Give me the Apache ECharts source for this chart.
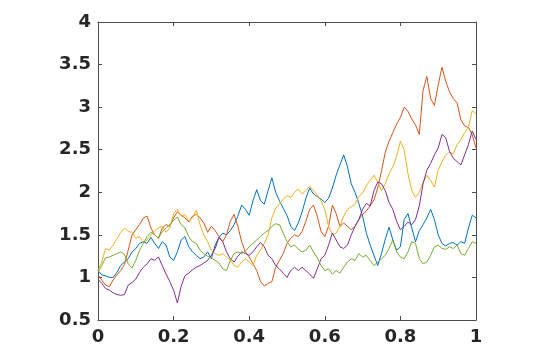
<!DOCTYPE html>
<html>
<head>
<meta charset="utf-8">
<script src="https://cdn.jsdelivr.net/npm/echarts@6/dist/echarts.min.js"></script>
<style>
  html, body { margin: 0; padding: 0; background: #fff; }
  #chart { width: 535px; height: 356px; }
</style>
</head>
<body>
<div id="chart"></div>
<script>
// time steps, 0 .. 1
let time = [
  0, 0.01, 0.02, 0.03, 0.04, 0.05, 0.06, 0.07, 0.08, 0.09,
  0.1, 0.11, 0.12, 0.13, 0.14, 0.15, 0.16, 0.17, 0.18, 0.19,
  0.2, 0.21, 0.22, 0.23, 0.24, 0.25, 0.26, 0.27, 0.28, 0.29,
  0.3, 0.31, 0.32, 0.33, 0.34, 0.35, 0.36, 0.37, 0.38, 0.39,
  0.4, 0.41, 0.42, 0.43, 0.44, 0.45, 0.46, 0.47, 0.48, 0.49,
  0.5, 0.51, 0.52, 0.53, 0.54, 0.55, 0.56, 0.57, 0.58, 0.59,
  0.6, 0.61, 0.62, 0.63, 0.64, 0.65, 0.66, 0.67, 0.68, 0.69,
  0.7, 0.71, 0.72, 0.73, 0.74, 0.75, 0.76, 0.77, 0.78, 0.79,
  0.8, 0.81, 0.82, 0.83, 0.84, 0.85, 0.86, 0.87, 0.88, 0.89,
  0.9, 0.91, 0.92, 0.93, 0.94, 0.95, 0.96, 0.97, 0.98, 0.99,
  1
];

// five paths
let path1 = [
  1.08, 1.03, 1.02, 1.0, 1.0, 1.06, 1.14, 1.18, 1.22, 1.30,
  1.34, 1.40, 1.42, 1.40, 1.47, 1.40, 1.34, 1.42, 1.38, 1.24,
  1.20, 1.30, 1.44, 1.48, 1.36, 1.30, 1.26, 1.22, 1.24, 1.30,
  1.22, 1.38, 1.47, 1.52, 1.50, 1.55, 1.62, 1.72, 1.85, 1.80,
  1.73, 1.90, 2.03, 1.90, 1.86, 2.02, 2.17, 2.0, 1.90, 1.81,
  1.73, 1.60, 1.55, 1.64, 1.77, 1.93, 2.05, 1.98, 1.95, 1.92,
  1.88, 1.93, 2.05, 2.20, 2.32, 2.44, 2.30, 2.10, 2.0, 1.87,
  1.72, 1.52, 1.38, 1.26, 1.14, 1.28, 1.45, 1.59, 1.44, 1.32,
  1.36, 1.68, 1.75, 1.58, 1.42, 1.55, 1.62, 1.70, 1.80, 1.68,
  1.50, 1.40, 1.37, 1.40, 1.41, 1.38, 1.42, 1.40, 1.58, 1.73,
  1.70
];
let path2 = [
  1.03, 0.97, 0.91, 0.89, 0.97, 1.03, 1.08, 1.15, 1.32, 1.50,
  1.56, 1.62, 1.70, 1.72, 1.58, 1.50, 1.46, 1.58, 1.62, 1.60,
  1.70, 1.77, 1.73, 1.70, 1.65, 1.72, 1.74, 1.70, 1.64, 1.53,
  1.60, 1.55, 1.48, 1.42, 1.50, 1.66, 1.74, 1.60, 1.42, 1.30,
  1.24, 1.16, 1.08, 0.95, 0.90, 0.93, 0.95, 1.12, 1.20, 1.28,
  1.40, 1.46, 1.50, 1.48, 1.54, 1.66, 1.80, 1.85, 1.72, 1.54,
  1.48, 1.60, 1.85, 1.75, 1.60, 1.64, 1.60, 1.56, 1.60, 1.68,
  1.74, 1.78, 1.84, 1.91, 2.05, 2.25, 2.47, 2.60, 2.70, 2.80,
  2.88, 3.00, 2.95, 2.86, 2.79, 2.68, 3.20, 3.36, 3.10, 3.02,
  3.26, 3.47, 3.30, 3.18, 3.10, 3.05, 2.85, 2.78, 2.76, 2.68,
  2.52
];
let path3 = [
  1.08, 1.18, 1.34, 1.32, 1.38, 1.45, 1.53, 1.58, 1.54, 1.53,
  1.46, 1.48, 1.41, 1.44, 1.50, 1.55, 1.58, 1.60, 1.53, 1.58,
  1.75, 1.80, 1.72, 1.74, 1.66, 1.70, 1.79, 1.62, 1.50, 1.42,
  1.32, 1.28, 1.26, 1.28, 1.24, 1.20, 1.14, 1.12, 1.18, 1.22,
  1.18, 1.14, 1.26, 1.32, 1.40, 1.50, 1.70, 1.81, 1.86, 1.92,
  1.96, 1.94, 2.0, 2.04, 1.98, 2.02, 2.07, 2.02, 1.97, 1.90,
  1.80, 1.60, 1.50, 1.52, 1.60, 1.72, 1.80, 1.83, 1.86, 1.95,
  1.99, 2.08, 2.14, 2.20, 2.12, 2.02, 2.10, 2.22, 2.30, 2.42,
  2.60, 2.50, 2.22, 2.02, 1.94, 2.0, 2.12, 2.20, 2.14, 2.06,
  2.26, 2.36, 2.44, 2.47, 2.45, 2.56, 2.62, 2.70, 2.76, 2.96,
  2.92
];
let path4 = [
  0.98, 0.93, 0.87, 0.85, 0.82, 0.80, 0.79, 0.80, 0.91, 0.94,
  0.98, 1.06, 1.12, 1.16, 1.22, 1.20, 1.24, 1.14, 1.04, 0.95,
  0.85, 0.70, 0.90, 1.02, 1.05, 1.09, 1.12, 1.14, 1.17, 1.20,
  1.26, 1.34, 1.47, 1.42, 1.30, 1.22, 1.18, 1.25, 1.30, 1.28,
  1.26, 1.30, 1.36, 1.41, 1.36, 1.26, 1.22, 1.14, 1.10, 1.05,
  1.0, 1.08, 1.12, 1.08, 1.12, 1.08, 1.04, 0.99, 1.10, 1.22,
  1.26, 1.38, 1.52, 1.44, 1.36, 1.34, 1.38, 1.50, 1.60, 1.68,
  1.80, 1.87, 1.84, 2.02, 2.12, 2.10, 2.02, 1.88, 1.80, 1.66,
  1.56, 1.60, 1.65, 1.62, 1.68, 1.84, 2.10, 2.26, 2.34, 2.44,
  2.52, 2.68, 2.64, 2.48, 2.40, 2.36, 2.32, 2.44, 2.56, 2.72,
  2.62
];
let path5 = [
  1.06, 1.14, 1.23, 1.24, 1.26, 1.28, 1.30, 1.27, 1.16, 1.11,
  1.20, 1.32, 1.40, 1.48, 1.53, 1.50, 1.46, 1.54, 1.58, 1.62,
  1.67, 1.71, 1.62, 1.58, 1.48, 1.42, 1.40, 1.32, 1.28, 1.25,
  1.23, 1.20, 1.17, 1.10, 1.08, 1.20, 1.28, 1.30, 1.28, 1.31,
  1.36, 1.40, 1.44, 1.48, 1.52, 1.55, 1.60, 1.63, 1.62, 1.52,
  1.42, 1.36, 1.38, 1.33, 1.30, 1.32, 1.38, 1.30, 1.23, 1.14,
  1.08, 1.10, 1.04, 1.08, 1.05, 1.12, 1.18, 1.22, 1.20, 1.28,
  1.24, 1.26, 1.20, 1.14, 1.18, 1.22, 1.26, 1.34, 1.44, 1.30,
  1.24, 1.22, 1.30, 1.42, 1.40, 1.22, 1.16, 1.18, 1.26, 1.36,
  1.38, 1.34, 1.33, 1.36, 1.34, 1.38, 1.28, 1.26, 1.34, 1.42,
  1.40
];

let paths = [path1, path2, path3, path4, path5];
let colors = ["#0072BD", "#D95319", "#EDB120", "#7E2F8E", "#77AC30"];

let chart = echarts.init(document.getElementById("chart"));

let axisColor = "#4d4d4d";
let labelStyle = {
  color: "#262626",
  fontFamily: "DejaVu Sans",
  fontWeight: "bold",
  fontSize: 18
};

function boxAxis(pos, isX) {
  return {
    type: "value",
    position: pos,
    min: isX ? 0 : 0.5,
    max: isX ? 1 : 4,
    interval: isX ? 0.2 : 0.5,
    axisLine: { show: true, onZero: false, lineStyle: { color: axisColor, width: 1 } },
    axisTick: { show: true, inside: true, length: 4, lineStyle: { color: axisColor } },
    axisLabel: { show: false },
    splitLine: { show: false }
  };
}

let xMain = boxAxis("bottom", true);
xMain.axisLabel = Object.assign({ show: true, margin: 8 }, labelStyle);
let yMain = boxAxis("left", false);
yMain.axisLabel = Object.assign({ show: true, margin: 7 }, labelStyle);

let option = {
  animation: false,
  backgroundColor: "#fff",
  grid: { left: 98, top: 22, right: 59, bottom: 36, containLabel: false },
  xAxis: [xMain, boxAxis("top", true)],
  yAxis: [yMain, boxAxis("right", false)],
  series: paths.map((p, i) => ({
    type: "line",
    data: p.map((v, j) => [time[j], v]),
    showSymbol: false,
    symbol: "none",
    lineStyle: { color: colors[i], width: 1 },
    z: 2 + i
  }))
};

chart.setOption(option, true);
</script>
</body>
</html>
